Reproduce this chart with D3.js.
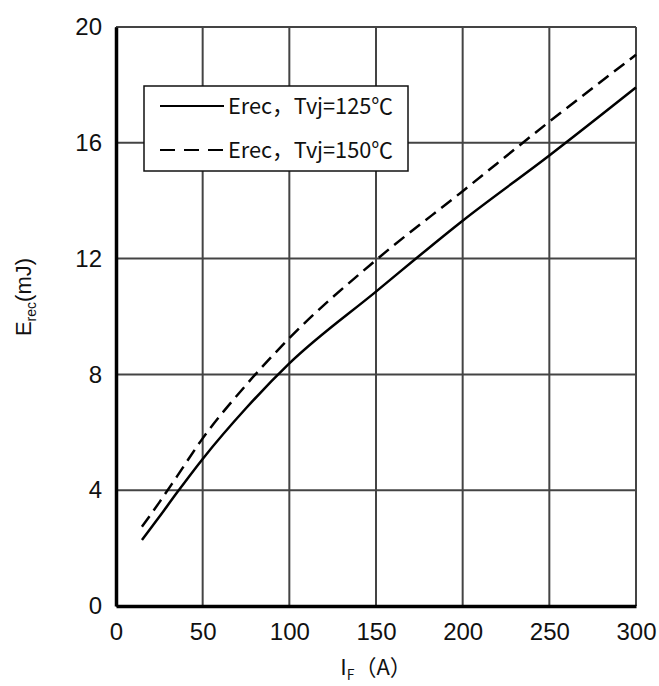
<!DOCTYPE html>
<html>
<head>
<meta charset="utf-8">
<script src="https://cdn.jsdelivr.net/npm/d3@7"></script>
<style>
  body { margin: 0; background: #fff; }
</style>
</head>
<body>
<script>
// values
var current = [15, 25, 35, 50, 75, 100, 150, 200, 250, 300];
var erec125 = [2.28, 3.08, 3.90, 5.08, 6.83, 8.38, 10.86, 13.31, 15.56, 17.91];
var erec150 = [2.74, 3.58, 4.46, 5.79, 7.63, 9.25, 11.95, 14.33, 16.73, 19.04];
var xTicks = [0, 50, 100, 150, 200, 250, 300];
var yTicks = [0, 4, 8, 12, 16, 20];
var seriesNames = ["Erec，Tvj=125℃", "Erec，Tvj=150℃"];

var width = 659, height = 686;
var plotLeft = 116, plotRight = 636, plotTop = 27, plotBottom = 606;

var svg = d3.select("body").append("svg")
    .attr("width", width)
    .attr("height", height);

var xScale = d3.scaleLinear().domain([0, 300]).range([plotLeft, plotRight]);
var yScale = d3.scaleLinear().domain([0, 20]).range([plotBottom, plotTop]);

// grid
svg.selectAll("line.vgrid")
    .data(xTicks)
    .enter()
    .append("line")
    .attr("x1", function (d) { return xScale(d); })
    .attr("x2", function (d) { return xScale(d); })
    .attr("y1", plotTop)
    .attr("y2", plotBottom)
    .attr("stroke", "#444")
    .attr("stroke-width", 2);

svg.selectAll("line.hgrid")
    .data(yTicks)
    .enter()
    .append("line")
    .attr("x1", plotLeft)
    .attr("x2", plotRight)
    .attr("y1", function (d) { return yScale(d); })
    .attr("y2", function (d) { return yScale(d); })
    .attr("stroke", "#444")
    .attr("stroke-width", 2);

// axes
var xAxis = svg.append("g")
    .attr("transform", "translate(0," + plotBottom + ")")
    .call(d3.axisBottom(xScale).tickValues(xTicks).tickSize(0).tickPadding(16));
var yAxis = svg.append("g")
    .attr("transform", "translate(" + plotLeft + ",0)")
    .call(d3.axisLeft(yScale).tickValues(yTicks).tickSize(0).tickPadding(14));

[xAxis, yAxis].forEach(function (g) {
    g.select(".domain").attr("stroke", "#000").attr("stroke-width", 3.5);
    g.selectAll("text")
        .attr("font-family", "Liberation Sans, Arial, sans-serif")
        .attr("font-size", "24px")
        .attr("fill", "#111");
});
xAxis.selectAll("text").attr("dy", "0.75em");

// curves
var line = d3.line()
    .x(function (d) { return xScale(d[0]); })
    .y(function (d) { return yScale(d[1]); })
    .curve(d3.curveMonotoneX);

svg.append("path")
    .datum(d3.zip(current, erec125))
    .attr("d", line)
    .attr("fill", "none")
    .attr("stroke", "#000")
    .attr("stroke-width", 2.5);

svg.append("path")
    .datum(d3.zip(current, erec150))
    .attr("d", line)
    .attr("fill", "none")
    .attr("stroke", "#000")
    .attr("stroke-width", 2.5)
    .attr("stroke-dasharray", "13,7");

// legend
var legend = svg.append("g");
legend.append("rect")
    .attr("x", 144)
    .attr("y", 86)
    .attr("width", 264)
    .attr("height", 85)
    .attr("fill", "#fff")
    .attr("stroke", "#111")
    .attr("stroke-width", 1.5);

legend.selectAll("line.key")
    .data(seriesNames)
    .enter()
    .append("line")
    .attr("x1", 160)
    .attr("x2", 224)
    .attr("y1", function (d, i) { return 106 + i * 44; })
    .attr("y2", function (d, i) { return 106 + i * 44; })
    .attr("stroke", "#000")
    .attr("stroke-width", 2)
    .attr("stroke-dasharray", function (d, i) { return i ? "15,9" : null; });

legend.selectAll("text")
    .data(seriesNames)
    .enter()
    .append("text")
    .attr("x", 228)
    .attr("y", function (d, i) { return 106 + i * 44; })
    .attr("dy", "0.35em")
    .attr("textLength", 165)
    .attr("lengthAdjust", "spacingAndGlyphs")
    .attr("font-family", "Noto Sans CJK SC, sans-serif")
    .attr("font-size", "22px")
    .attr("fill", "#111")
    .text(function (d) { return d; });

// axis titles
var xt = svg.append("text")
    .attr("x", 363)
    .attr("y", 675)
    .attr("font-family", "Noto Sans CJK SC, sans-serif")
    .attr("font-size", "22px")
    .attr("fill", "#111");
xt.append("tspan").text("I");
xt.append("tspan").attr("font-size", "14px").attr("dy", 5).text("F");
xt.append("tspan").attr("dy", -5).text("（A）");
xt.attr("x", 376 - xt.node().getComputedTextLength() / 2);

var yt = svg.append("text")
    .attr("transform", "translate(31,297) rotate(-90)")
    .attr("text-anchor", "middle")
    .attr("font-family", "Liberation Sans, Arial, sans-serif")
    .attr("font-size", "22px")
    .attr("fill", "#111");
yt.append("tspan").text("E");
yt.append("tspan").attr("font-size", "14px").attr("dy", 5).text("rec");
yt.append("tspan").attr("dy", -5).text("(mJ)");
</script>
</body>
</html>
